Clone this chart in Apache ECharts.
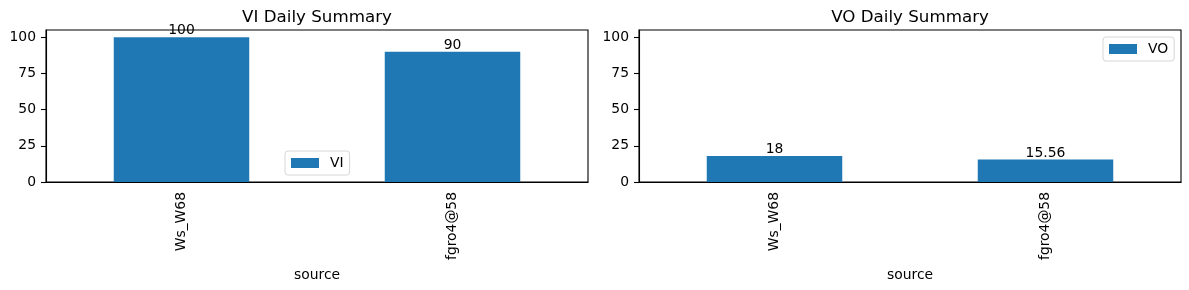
<!DOCTYPE html>
<html>
<head>
<meta charset="utf-8">
<script src="https://cdn.jsdelivr.net/npm/echarts@6/dist/echarts.min.js"></script>
<style>
  html, body { margin: 0; padding: 0; background: #fff; }
  #chart { width: 1189px; height: 290px; }
</style>
</head>
<body>
<div id="chart"></div>
<script>
const categories = ['Ws_W68', 'fgro4@58'];
const viValues = [100, 90];
const voValues = [18, 15.56];
const yTicks = [0, 25, 50, 75, 100];
const titles = ['VI Daily Summary', 'VO Daily Summary'];
const seriesNames = ['VI', 'VO'];
const xAxisName = 'source';

const FONT = 'DejaVu Sans';
const BLUE = '#1f77b4';
const FS = 13.9;

const grids = [
  { left: 46, top: 30, width: 542, height: 152 },
  { left: 639, top: 30, width: 542, height: 152 }
];

function gridOpt(g) {
  return Object.assign({ show: true, borderColor: '#000', borderWidth: 1.1, backgroundColor: 'transparent', containLabel: false }, g);
}

function xAxisOpt(i) {
  return {
    type: 'category', gridIndex: i, data: categories,
    boundaryGap: true,
    name: xAxisName, nameLocation: 'middle', nameGap: 80,
    nameTextStyle: { fontFamily: FONT, fontSize: FS, color: '#000' },
    axisLine: { lineStyle: { color: '#000', width: 1.1 } },
    axisTick: { alignWithLabel: true, length: 5, lineStyle: { color: '#000', width: 1.1 } },
    axisLabel: { rotate: 90, margin: 10, fontFamily: FONT, fontSize: FS, color: '#000' },
    splitLine: { show: false }
  };
}

function yAxisOpt(i) {
  return {
    type: 'value', gridIndex: i, min: 0, max: 105, interval: 25,
    axisLine: { show: true, lineStyle: { color: '#000', width: 1.1 } },
    axisTick: { show: true, length: 5, customValues: yTicks, lineStyle: { color: '#000', width: 1.1 } },
    axisLabel: { margin: 10, customValues: yTicks, fontFamily: FONT, fontSize: FS, color: '#000' },
    splitLine: { show: false }
  };
}

function barSeries(i, name, values) {
  return {
    type: 'bar', name: name, xAxisIndex: i, yAxisIndex: i,
    data: values, barWidth: '50%',
    itemStyle: { color: BLUE },
    label: { show: true, position: 'top', distance: -0.5, fontFamily: FONT, fontSize: FS, color: '#000',
             formatter: p => String(p.value) }
  };
}

function legendOpt(i, name, left, top) {
  return {
    data: [name], left: left, top: top, orient: 'vertical',
    icon: 'rect', itemWidth: 28, itemHeight: 10,
    padding: [5, 6, 5, 6],
    backgroundColor: '#fff', borderColor: '#d6d6d6', borderWidth: 1, borderRadius: 3,
    textStyle: { fontFamily: FONT, fontSize: FS, color: '#000', padding: [0, 0, 0, 6] },
    selectedMode: false
  };
}

const chart = echarts.init(document.getElementById('chart'), null, { renderer: 'canvas' });
chart.setOption({
  animation: false,
  backgroundColor: '#fff',
  title: titles.map((t, i) => ({
    text: t, left: grids[i].left + grids[i].width / 2, top: 9, textAlign: 'center', padding: 0,
    textStyle: { fontFamily: FONT, fontSize: 16.7, fontWeight: 'normal', color: '#000' }
  })),
  grid: grids.map(gridOpt),
  xAxis: [xAxisOpt(0), xAxisOpt(1)],
  yAxis: [yAxisOpt(0), yAxisOpt(1)],
  legend: [legendOpt(0, seriesNames[0], 285, 151), legendOpt(1, seriesNames[1], 1103, 37)],
  series: [barSeries(0, seriesNames[0], viValues), barSeries(1, seriesNames[1], voValues)]
});
</script>
</body>
</html>
